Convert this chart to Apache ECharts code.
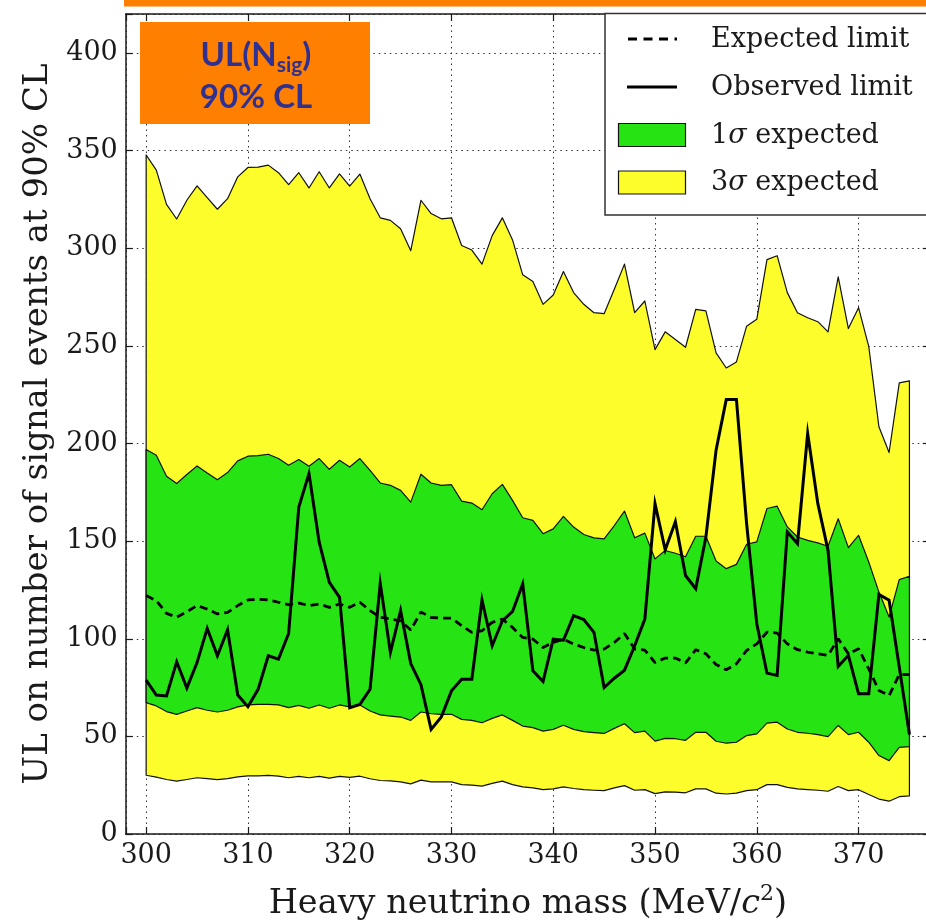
<!DOCTYPE html>
<html>
<head>
<meta charset="utf-8">
<script src="https://cdn.jsdelivr.net/npm/echarts@6/dist/echarts.min.js"></script>
<style>
  html, body { margin: 0; padding: 0; background: #fff; overflow: hidden; }
  #chart { width: 926px; height: 922px; }
</style>
</head>
<body>
<div id="chart"></div>
<script>
// Heavy neutrino mass points (MeV/c^2)
const masses = [300, 301, 302, 303, 304, 305, 306, 307, 308, 309,
  310, 311, 312, 313, 314, 315, 316, 317, 318, 319,
  320, 321, 322, 323, 324, 325, 326, 327, 328, 329,
  330, 331, 332, 333, 334, 335, 336, 337, 338, 339,
  340, 341, 342, 343, 344, 345, 346, 347, 348, 349,
  350, 351, 352, 353, 354, 355, 356, 357, 358, 359,
  360, 361, 362, 363, 364, 365, 366, 367, 368, 369,
  370, 371, 372, 373, 374, 375];

// 3 sigma band, upper edge
const upper3 = [347.8, 340, 322.5, 315, 324.6, 332, 326, 320, 325.4, 336.6,
  341.4, 341.6, 342.6, 338.7, 332.6, 338.7, 330.9, 339.2, 330.9, 338.1,
  331.8, 338, 325.4, 315.6, 314.3, 310, 298.8, 324.6, 317.8, 315.1,
  315.6, 301.4, 299.1, 291.9, 306.5, 315.6, 304.3, 286.4, 283, 271.3,
  276.1, 288.1, 277.3, 271.3, 267, 266.5, 279, 291.9, 267, 273,
  248.1, 257.2, 253.3, 249.3, 268.7, 267.9, 246.4, 238.7, 241.8, 260.1,
  263.6, 294.2, 296.2, 277.3, 267, 264.4, 262.4, 257.2, 285.4, 258.9,
  269.6, 249.8, 208.6, 195.4, 231.1, 232.1];

// 1 sigma band, upper edge
const upper1 = [196.9, 194, 183.2, 179.5, 184.1, 188.5, 184.9, 181.5, 185.1, 191.1,
  193.5, 193.8, 194.5, 192.3, 188.9, 191.8, 188.4, 192.3, 186.8, 191.4,
  188, 192.3, 186.3, 179.8, 178.6, 176, 170, 184.3, 179.8, 178.6,
  178.9, 170.5, 169.5, 166.1, 174.3, 179.1, 170.9, 162, 160.6, 153.8,
  156.3, 162.7, 157.2, 153.4, 151.7, 151.2, 158, 165.4, 151.7, 154.1,
  140.9, 145.2, 143.8, 142, 152.5, 152.5, 139.8, 135.9, 138.1, 148.4,
  149.6, 166.7, 167.9, 157.3, 152.1, 150.4, 149.1, 147.4, 161.5, 146.7,
  153, 139.3, 123.9, 111.1, 130.3, 132];

// Median expected limit
const expected = [122.1, 119.5, 113, 111, 113.9, 117, 115.2, 112.7, 113.5, 117,
  119.9, 120.2, 119.9, 118.7, 117.5, 118.3, 117, 117.8, 116.1, 117.8,
  116.1, 118.7, 114.4, 111, 110.1, 109.2, 104.5, 113.7, 110.9, 110.6,
  110.6, 106.7, 103.3, 104.1, 108.4, 110.1, 105.8, 100.7, 99.8, 95.5,
  98.1, 99.8, 97.3, 95.5, 94.2, 94.7, 98.1, 102.7, 94.7, 94.2,
  87.8, 90.1, 90.1, 87.6, 94.4, 92.3, 86.8, 84.1, 87.2, 94,
  97.4, 103.4, 102.9, 97.4, 94.4, 93.2, 92.3, 91.5, 100, 92.3,
  94.9, 84.6, 73.5, 70.9, 81.7, 81.7];

// 1 sigma band, lower edge
const lower1 = [67.3, 65.6, 62.7, 61.3, 63, 64.7, 63.4, 62.5, 63.4, 65.1,
  66.1, 66.4, 66.4, 66.1, 64.7, 65.9, 64.4, 66.1, 64.4, 66.1,
  65.1, 66.1, 63, 61, 60.4, 59.9, 58.2, 62.5, 61.6, 61.3,
  61.3, 58.7, 58.2, 57, 59.2, 61, 58.2, 55.3, 54.5, 52.7,
  53.6, 55.7, 53.6, 52.4, 51.9, 51.5, 54.1, 56.5, 51.9, 52.7,
  47.6, 49, 48.8, 48, 52.1, 52.1, 47.5, 46.5, 47, 50.4,
  51.3, 56.8, 57.3, 53.8, 52.1, 51.6, 50.9, 49.9, 55.6, 50.9,
  52.1, 47, 40.2, 37.6, 44.4, 44.8];

// 3 sigma band, lower edge
const lower3 = [30.1, 29.1, 27.9, 27.1, 27.9, 28.8, 28.4, 27.9, 28.4, 29.3,
  29.8, 29.8, 30, 29.6, 28.8, 29.5, 28.8, 29.5, 28.6, 29.5,
  29, 29.6, 28.3, 27.4, 27.2, 26.7, 25.7, 27.6, 26.7, 26.7,
  26.7, 25.3, 25, 24.5, 25.9, 27.1, 25.3, 24.1, 23.6, 22.7,
  23.1, 24.1, 23.3, 22.7, 22.4, 22.2, 23.6, 24.8, 22.4, 22.7,
  20.7, 21.6, 21.4, 21.1, 23.1, 23.1, 20.9, 20.5, 20.9, 22.2,
  22.7, 25.3, 25.3, 23.9, 23.1, 22.7, 22.4, 21.9, 24.3, 22.2,
  22.7, 20.2, 17.9, 16.8, 19.1, 19.5];

// Observed upper limit
const observed = [78.8, 71.2, 70.7, 88.2, 74.7, 87.8, 105.3, 91.3, 104.6, 71.2,
  65.2, 74.1, 91.3, 89.6, 102.7, 167.5, 184.6, 149.5, 128.9, 121.2,
  64.7, 66.4, 74.1, 128.4, 93, 114.4, 87.3, 76.5, 53.6, 59.9,
  73.3, 79.3, 79.3, 119.9, 96.4, 109.2, 114, 128.1, 83.6, 78.1,
  99.8, 99.3, 111.8, 109.8, 103.3, 75, 79.8, 83.9, 96.4, 110.1,
  169.2, 145.5, 160, 132.4, 125.6, 152.1, 196.6, 222.6, 222.6, 159,
  107.7, 82.4, 81.2, 154.7, 148.7, 205.1, 169.2, 145.3, 85.8, 91.5,
  71.8, 71.8, 122.7, 119.7, 85.5, 51];

const legendLabels = ['Expected limit', 'Observed limit', '1{i|σ} expected', '3{i|σ} expected'];
const yTicks = [0, 50, 100, 150, 200, 250, 300, 350, 400];

const SERIF = 'DejaVu Serif';
const GREEN = '#26e414';
const YELLOW = '#fdfd2b';
const ORANGE = '#ff7f00';
const INK = '#1a1a1a';

// Filled band between two edges, outlined like a closed polygon
function band(name, upper, lower, color, z) {
  return {
    type: 'custom',
    name: name,
    z: z,
    silent: true,
    data: [[masses[0], lower[0]]],
    renderItem: function (params, api) {
      const pts = [];
      for (let i = 0; i < masses.length; i++) pts.push(api.coord([masses[i], upper[i]]));
      for (let i = masses.length - 1; i >= 0; i--) pts.push(api.coord([masses[i], lower[i]]));
      return {
        type: 'polygon',
        shape: { points: pts },
        style: { fill: color, stroke: '#111', lineWidth: 1.2, lineJoin: 'round' }
      };
    }
  };
}

const dotted = { color: '#333', width: 1, type: [1.5, 4] };
const axisLineStyle = { color: INK, width: 1.5 };
const tickStyle = { inside: true, length: 7, lineStyle: { color: INK, width: 1.2 } };

const chart = echarts.init(document.getElementById('chart'));

chart.setOption({
  animation: false,
  backgroundColor: '#fff',
  grid: { left: 125.8, top: 14, width: 804, height: 820, containLabel: false, outerBoundsMode: 'none' },
  xAxis: [{
    type: 'value', min: 298, max: 377, splitNumber: 8, position: 'bottom',
    axisLine: { show: true, onZero: false, lineStyle: axisLineStyle },
    axisTick: tickStyle,
    axisLabel: {
      fontFamily: SERIF, fontSize: 27, color: INK, margin: 8,
      formatter: v => (v % 10 === 0 ? String(v) : '')
    },
    splitLine: { show: true, lineStyle: dotted },
    name: '{t|Heavy neutrino mass (MeV/}{i|c}{s|2}{t|)}',
    nameLocation: 'middle', nameGap: 49,
    nameTextStyle: {
      rich: {
        t: { fontFamily: SERIF, fontSize: 33.5, color: INK, lineHeight: 42 },
        i: { fontFamily: SERIF, fontStyle: 'italic', fontSize: 33.5, color: INK, lineHeight: 42 },
        s: { fontFamily: SERIF, fontSize: 22, color: INK, lineHeight: 22, verticalAlign: 'top' }
      }
    }
  }, {
    type: 'value', min: 298, max: 377, splitNumber: 8, position: 'top',
    axisLine: { show: true, onZero: false, lineStyle: axisLineStyle },
    axisTick: tickStyle,
    axisLabel: { show: false },
    splitLine: { show: false }
  }],
  yAxis: [{
    type: 'value', min: 0, max: 420, interval: 50, position: 'left',
    axisLine: { show: true, onZero: false, lineStyle: axisLineStyle },
    axisTick: tickStyle,
    axisLabel: {
      fontFamily: SERIF, fontSize: 27, color: INK, margin: 8,
      formatter: v => (yTicks.indexOf(v) >= 0 ? String(v) : '')
    },
    splitLine: { show: true, lineStyle: dotted },
    name: 'UL on number of signal events at 90% CL',
    nameLocation: 'middle', nameGap: 70,
    nameTextStyle: { fontFamily: SERIF, fontSize: 34, color: INK }
  }, {
    type: 'value', min: 0, max: 420, interval: 50, position: 'right',
    axisLine: { show: true, onZero: false, lineStyle: axisLineStyle },
    axisTick: tickStyle,
    axisLabel: { show: false },
    splitLine: { show: false }
  }],
  series: [
    band('3σ expected', upper3, lower3, YELLOW, 2),
    band('1σ expected', upper1, lower1, GREEN, 3),
    {
      type: 'line', name: 'Expected limit', z: 4, symbol: 'none', silent: true,
      data: masses.map((m, i) => [m, expected[i]]),
      lineStyle: { color: '#000', width: 2.8, type: [8, 5] }
    },
    {
      type: 'line', name: 'Observed limit', z: 5, symbol: 'none', silent: true,
      data: masses.map((m, i) => [m, observed[i]]),
      lineStyle: { color: '#000', width: 3, join: 'miter' }
    }
  ],
  graphic: [
    // orange strip along the top
    { type: 'rect', z: 100, shape: { x: 124, y: 0, width: 802, height: 6.5 }, style: { fill: ORANGE } },
    // title box
    { type: 'rect', z: 100, shape: { x: 140, y: 22, width: 230, height: 102 }, style: { fill: ORANGE } },
    {
      type: 'text', z: 101, x: 256, y: 55,
      style: {
        text: '{m|UL(N}{s|sig}{m|)}', align: 'center', verticalAlign: 'middle',
        rich: {
          m: { fontFamily: 'Lato', fontWeight: 'bold', fontSize: 33, fill: '#2e3192', lineHeight: 42 },
          s: { fontFamily: 'Lato', fontWeight: 'bold', fontSize: 21, fill: '#2e3192', lineHeight: 21, verticalAlign: 'bottom' }
        }
      }
    },
    {
      type: 'text', z: 101, x: 256, y: 97,
      style: {
        text: '90% CL', align: 'center', verticalAlign: 'middle',
        fontFamily: 'Lato', fontWeight: 'bold', fontSize: 33, fill: '#2e3192'
      }
    },
    // legend frame
    { type: 'rect', z: 100, shape: { x: 605, y: 13.5, width: 330, height: 201.5 }, style: { fill: '#fff', stroke: '#333', lineWidth: 1.5 } },
    { type: 'line', z: 101, shape: { x1: 628, y1: 39, x2: 677, y2: 39 }, style: { stroke: '#000', lineWidth: 2.8, lineDash: [9, 6.5] } },
    { type: 'line', z: 101, shape: { x1: 627, y1: 87, x2: 677, y2: 87 }, style: { stroke: '#000', lineWidth: 2.8 } },
    { type: 'rect', z: 101, shape: { x: 618.5, y: 123.5, width: 67, height: 23 }, style: { fill: GREEN, stroke: '#111', lineWidth: 1.2 } },
    { type: 'rect', z: 101, shape: { x: 618.5, y: 171, width: 67, height: 23 }, style: { fill: YELLOW, stroke: '#111', lineWidth: 1.2 } }
  ].concat(legendLabels.map((label, k) => ({
    type: 'text', z: 101, x: 711, y: 40 + k * 47.8,
    style: {
      text: label, align: 'left', verticalAlign: 'middle',
      fontFamily: SERIF, fontSize: 27, fill: INK,
      rich: { i: { fontFamily: SERIF, fontStyle: 'italic', fontSize: 27, fill: INK } }
    }
  })))
});
</script>
</body>
</html>
